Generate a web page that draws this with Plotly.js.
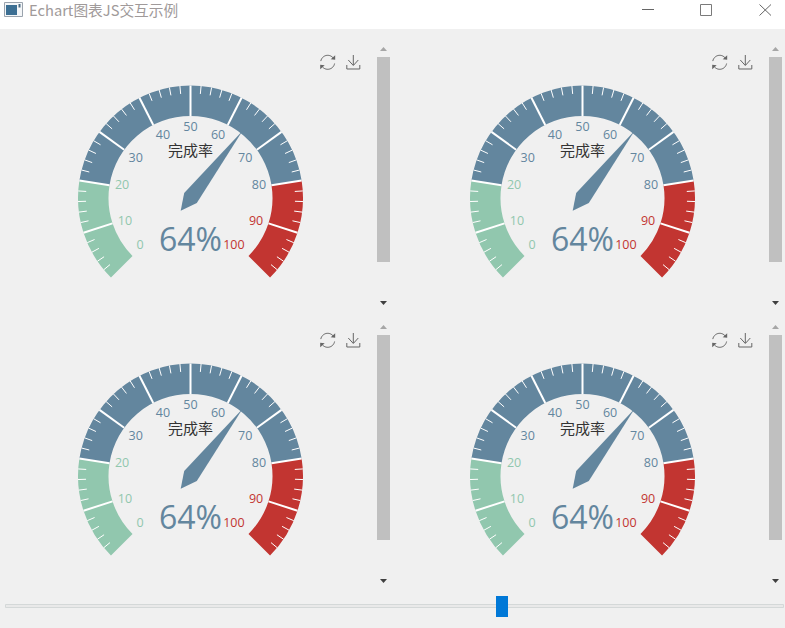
<!DOCTYPE html>
<html>
<head>
<meta charset="utf-8">
<script src="https://cdn.plot.ly/plotly-3.0.1.min.js"></script>
<style>html,body{margin:0;padding:0;background:#f0f0f0;overflow:hidden}#chart{width:785px;height:628px}</style>
</head>
<body>
<div id="chart"></div>
<script>
// ---- data ----
const gaugeValue = 64;
const gaugeName = "完成率";
const windowTitle = "Echart图表JS交互示例";
const bandStops = [0, 20, 80, 100];
const bandColors = ["#91c7ae", "#63869e", "#c23531"];
const tickValues = [0, 10, 20, 30, 40, 50, 60, 70, 80, 90, 100];
const tickLabels = ["0", "10", "20", "30", "40", "50", "60", "70", "80", "90", "100"];
const minorPerSplit = [2, 4, 6, 8];

// ---- layout constants ----
const W = 785, H = 628, CELL_W = 392, CELL_H = 278;
const CX = 190.5, CY = 198, VIEW_R = 125;
const R_OUT = 112.5, R_IN = 82, R_LABEL = 76.5, TICK_LEN = 8;
const NEEDLE_LEN = 85, NEEDLE_W = 8, NEEDLE_TAIL = 16;
const LATIN = "'Open Sans', 'Noto Sans CJK SC', sans-serif";
const CJK = "'Noto Sans CJK SC', 'Open Sans', sans-serif";

const angle = v => 225 - 2.7 * v;
const bandColor = v => {
  for (let i = 0; i < bandColors.length; i++) if (v <= bandStops[i + 1]) return bandColors[i];
  return bandColors[bandColors.length - 1];
};
function labelPosition(v) {
  const a = angle(v) * Math.PI / 180, ux = Math.cos(a), uy = Math.sin(a);
  const h = ux < -0.4 ? "right" : ux > 0.4 ? "left" : "center";
  const t = uy > 0.4 ? "bottom" : uy < -0.4 ? "top" : "middle";
  return t + " " + h;
}

function gaugeTraces(sub) {
  const out = [];
  const common = {subplot: sub, hoverinfo: "skip", showlegend: false};
  bandColors.forEach((c, i) => {
    const a = bandStops[i], b = bandStops[i + 1];
    out.push({...common, type: "barpolar", theta: [angle((a + b) / 2)], width: [(b - a) * 2.7],
      base: [R_IN], r: [R_OUT - R_IN], marker: {color: c, line: {width: 0}}});
  });
  // split lines
  const st = [], sr = [];
  tickValues.slice(1, -1).forEach(v => { st.push(angle(v), angle(v), null); sr.push(R_IN, R_OUT, null); });
  out.push({...common, type: "scatterpolar", mode: "lines", theta: st, r: sr, line: {color: "#ffffff", width: 2}});
  // minor ticks
  const mt = [], mr = [];
  tickValues.slice(0, -1).forEach(v => minorPerSplit.forEach(m => {
    mt.push(angle(v + m), angle(v + m), null); mr.push(R_OUT - TICK_LEN, R_OUT, null);
  }));
  out.push({...common, type: "scatterpolar", mode: "lines", theta: mt, r: mr, line: {color: "#ffffff", width: 1}});
  // labels
  out.push({...common, type: "scatterpolar", mode: "text", theta: tickValues.map(angle),
    r: tickValues.map(() => R_LABEL), text: tickLabels, textposition: tickValues.map(labelPosition),
    textfont: {family: LATIN, size: 12.5, color: tickValues.map(bandColor)}, cliponaxis: false});
  // needle
  const na = angle(gaugeValue);
  out.push({...common, type: "scatterpolar", mode: "lines", fill: "toself", fillcolor: "#63869e",
    theta: [na, na + 90, na + 180, na - 90, na], r: [NEEDLE_LEN, NEEDLE_W, NEEDLE_TAIL, NEEDLE_W, NEEDLE_LEN],
    line: {color: "#63869e", width: 0}});
  // name and value
  out.push({...common, type: "scatterpolar", mode: "text", theta: [90], r: [45.5], text: [gaugeName],
    textposition: "middle center", textfont: {family: CJK, size: 15, color: "#333333"}, cliponaxis: false});
  out.push({...common, type: "scatterpolar", mode: "text", theta: [270], r: [44.5], text: [gaugeValue + "%"],
    textposition: "middle center", textfont: {family: LATIN, size: 32, color: "#63869e"}, cliponaxis: false});
  return out;
}

// ---- chrome helpers (pixel -> paper) ----
const px = x => x / W, py = y => 1 - y / H;
const base = {xref: "paper", yref: "paper", layer: "above"};
const rect = (x0, y0, x1, y1, fill, line, lw) => ({...base, type: "rect", x0: px(x0), x1: px(x1), y0: py(y0), y1: py(y1),
  fillcolor: fill, line: {color: line || fill, width: line ? (lw || 1) : 0}});
const seg = (x0, y0, x1, y1, color, w) => ({...base, type: "line", x0: px(x0), x1: px(x1), y0: py(y0), y1: py(y1),
  line: {color, width: w || 1}});
const poly = (pts, close, fill, color, w) => ({...base, type: "path",
  path: pts.map((p, i) => (i ? "L" : "M") + px(p[0]).toFixed(5) + "," + py(p[1]).toFixed(5)).join(" ") + (close ? " Z" : ""),
  fillcolor: fill || "rgba(0,0,0,0)", line: {color: color || fill, width: w === undefined ? 1 : w}});
function arc(cx, cy, r, a0, a1) {
  const p = [];
  for (let i = 0; i <= 16; i++) {
    const a = (a0 + (a1 - a0) * i / 16) * Math.PI / 180;
    p.push([cx + r * Math.cos(a), cy - r * Math.sin(a)]);
  }
  return p;
}

const shapes = [];
shapes.push(rect(0, 0, W, 29, "#ffffff"));
// window icon
shapes.push(rect(4.5, 2.5, 22.5, 16.5, "#f4f6f8", "#9aa3ad", 1));
shapes.push(rect(6, 5, 17, 15, "#3c6f93"));
shapes.push(rect(18.5, 4, 20.5, 7.5, "#4a6a82"));
// window buttons
shapes.push(seg(642, 9.5, 654, 9.5, "#666666"));
shapes.push(rect(700.5, 4.5, 711.5, 15.5, "rgba(0,0,0,0)", "#7a7a7a", 1));
shapes.push(seg(759.5, 4.5, 771, 15.5, "#666666"));
shapes.push(seg(771, 4.5, 759.5, 15.5, "#666666"));
// cell furniture
for (let row = 0; row < 2; row++) for (let col = 0; col < 2; col++) {
  const dx = col * CELL_W, dy = row * CELL_H;
  shapes.push(rect(377 + dx, 57 + dy, 390 + dx, 262 + dy, "#c0c0c0"));
  shapes.push(poly([[380 + dx, 51 + dy], [387 + dx, 51 + dy], [383.5 + dx, 47 + dy]], true, "#a6a6a6", "#a6a6a6", 0));
  shapes.push(poly([[380 + dx, 301 + dy], [387 + dx, 301 + dy], [383.5 + dx, 305 + dy]], true, "#404040", "#404040", 0));
  const rx = 327.7 + dx, ry = 62.3 + dy;
  shapes.push(poly(arc(rx, ry, 7, 170, 35), false, null, "#666666", 1));
  shapes.push(poly(arc(rx, ry, 7, -10, -145), false, null, "#666666", 1));
  shapes.push(poly([[rx + 7.5, ry - 7], [rx + 7.5, ry - 2.5], [rx + 3, ry - 3]], true, "#666666", "#666666", 0));
  shapes.push(poly([[rx - 7.5, ry + 7], [rx - 7.5, ry + 2.5], [rx - 3, ry + 3]], true, "#666666", "#666666", 0));
  const ax = 353.3 + dx, ay = 55 + dy;
  shapes.push(seg(ax, ay, ax, ay + 10, "#666666"));
  shapes.push(poly([[ax - 5, ay + 5], [ax, ay + 10.5], [ax + 5, ay + 5]], false, null, "#666666", 1));
  shapes.push(poly([[ax - 6.5, ay + 10], [ax - 6.5, ay + 14], [ax + 6.5, ay + 14], [ax + 6.5, ay + 10]], false, null, "#666666", 1));
}
// slider
shapes.push(rect(5.5, 604.5, 783.5, 607.5, "#e9e9e9", "#d4d8d8", 1));
shapes.push(rect(496, 596, 508, 617, "#0078d7"));

// ---- assemble ----
const traces = [], layout = {
  width: W, height: H, margin: {l: 0, r: 0, t: 0, b: 0},
  paper_bgcolor: "#f0f0f0", plot_bgcolor: "#f0f0f0", showlegend: false,
  title: {text: windowTitle, x: 29 / W, xanchor: "left", xref: "paper", y: py(11), yanchor: "middle", yref: "paper",
    font: {family: CJK, size: 14.7, color: "#a09a9a"}},
  shapes
};
for (let i = 0; i < 4; i++) {
  const sub = i ? "polar" + (i + 1) : "polar";
  const cx = CX + (i % 2) * CELL_W, cy = CY + Math.floor(i / 2) * CELL_H;
  layout[sub] = {
    domain: {x: [px(cx - VIEW_R), px(cx + VIEW_R)], y: [py(cy + VIEW_R), py(cy - VIEW_R)]},
    bgcolor: "rgba(0,0,0,0)", barmode: "overlay",
    radialaxis: {visible: false, range: [0, VIEW_R]},
    angularaxis: {visible: false, direction: "counterclockwise", rotation: 0, thetaunit: "degrees"}
  };
  traces.push(...gaugeTraces(sub));
}
Plotly.newPlot("chart", traces, layout, {displayModeBar: false, staticPlot: true});
</script>
</body>
</html>
